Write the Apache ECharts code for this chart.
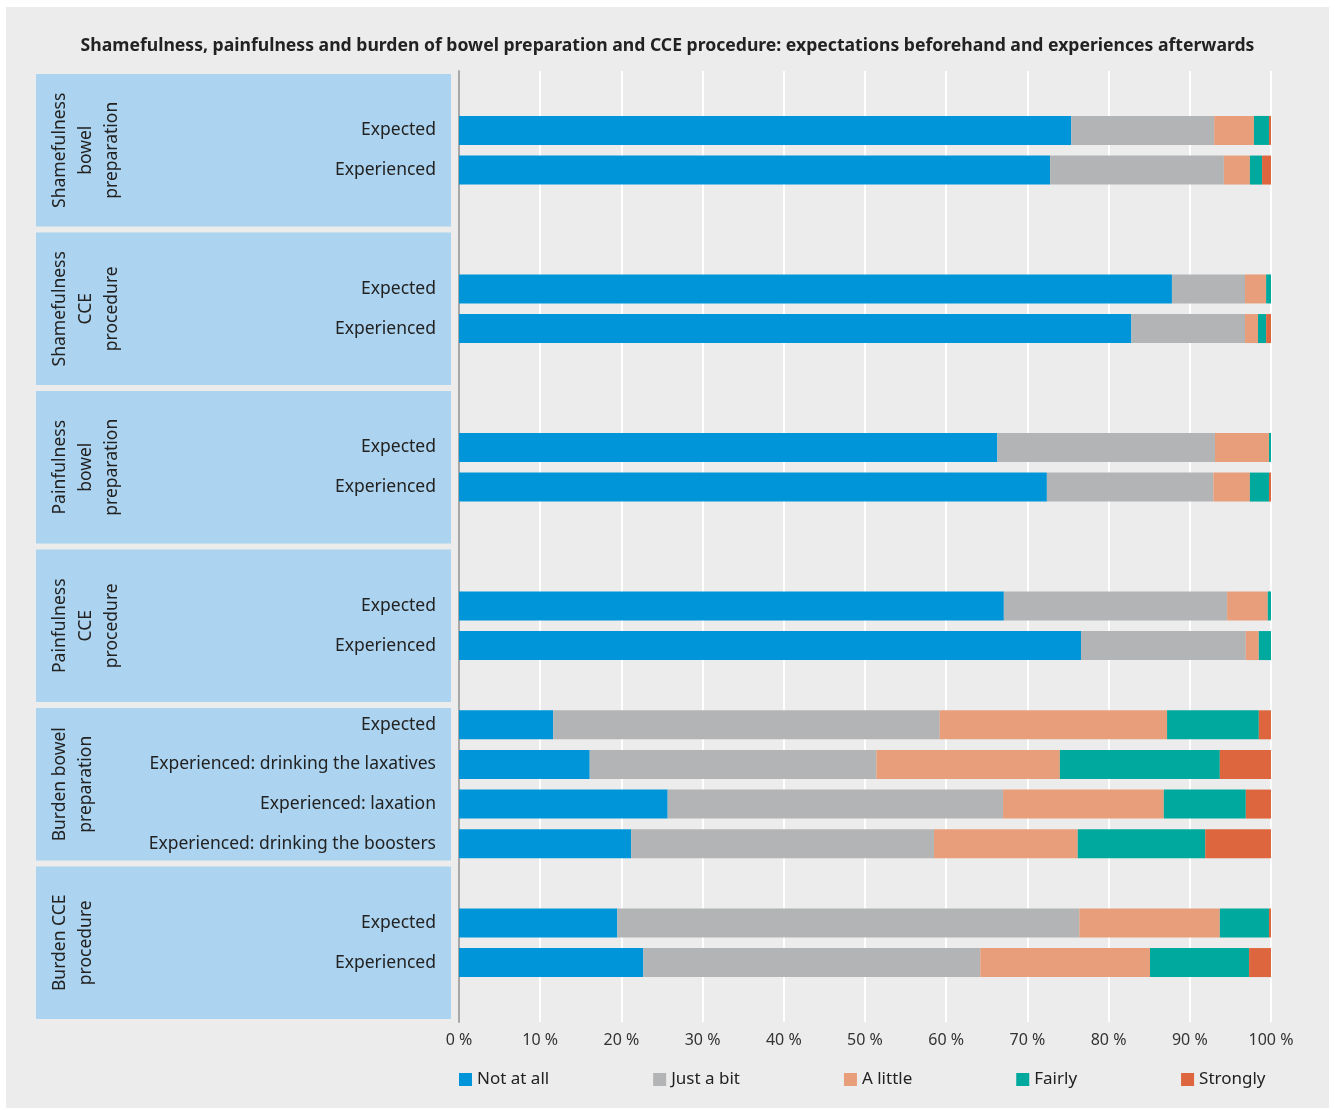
<!DOCTYPE html>
<html>
<head>
<meta charset="utf-8">
<title>Shamefulness, painfulness and burden</title>
<script src="https://cdn.jsdelivr.net/npm/echarts@6.0.0/dist/echarts.min.js"></script>
<style>
body{margin:0;background:#fff;}
#bg{position:absolute;left:6px;top:7px;width:1323px;height:1101px;background:#ebeceb;}
#main{position:absolute;left:0;top:0;width:1335px;height:1110px;}
</style>
</head>
<body>
<div id="bg"></div>
<div id="main"></div>
<script>
var chartTitle = 'Shamefulness, painfulness and burden of bowel preparation and CCE procedure: expectations beforehand and experiences afterwards';
//分组名称
var groupNames = [
	'Shamefulness\nbowel\npreparation',
	'Shamefulness\nCCE\nprocedure',
	'Painfulness\nbowel\npreparation',
	'Painfulness\nCCE\nprocedure',
	'Burden bowel\npreparation',
	'Burden CCE\nprocedure'
];
//每组的行
var groupRows = [
	['Expected', 'Experienced'],
	['Expected', 'Experienced'],
	['Expected', 'Experienced'],
	['Expected', 'Experienced'],
	['Expected', 'Experienced: drinking the laxatives', 'Experienced: laxation', 'Experienced: drinking the boosters'],
	['Expected', 'Experienced']
];
var levels = ['Not at all', 'Just a bit', 'A little', 'Fairly', 'Strongly'];
//百分比
var notAtAll = [75.4, 72.8, 87.8, 82.8, 66.3, 72.4, 67.1, 76.6, 11.6, 16.1, 25.7, 21.2, 19.5, 22.7];
var justABit = [17.6, 21.4, 9.0, 14.0, 26.8, 20.5, 27.5, 20.3, 47.6, 35.3, 41.3, 37.3, 56.9, 41.5];
var aLittle  = [4.9, 3.2, 2.6, 1.6, 6.65, 4.5, 5.0, 1.6, 28.0, 22.6, 19.8, 17.7, 17.3, 20.9];
var fairly   = [1.85, 1.5, 0.6, 1.0, 0.25, 2.35, 0.4, 1.5, 11.3, 19.7, 10.1, 15.7, 6.05, 12.2];
var strongly = [0.25, 1.1, 0, 0.6, 0, 0.25, 0, 0, 1.5, 6.3, 3.1, 8.1, 0.25, 2.7];
var levelValues = [notAtAll, justABit, aLittle, fairly, strongly];
var colors = ['#0095d9', '#b3b4b5', '#e89e7b', '#00a99d', '#dd663e'];

var fontFamily = 'Noto Sans';
var slotsPerGroup = 4;

//构造类目：每组4个位置，不足的上下留空
var categories = [];
var rowSlot = [];
var groupSlots = [];
for (var g = 0; g < groupRows.length; g++) {
	var rows = groupRows[g];
	var pad = (slotsPerGroup - rows.length) / 2;
	var first = categories.length;
	for (var k = 0; k < slotsPerGroup; k++) {
		var r = k - pad;
		if (r >= 0 && r < rows.length) {
			rowSlot.push(categories.length);
			categories.push(rows[r]);
		} else {
			categories.push('');
		}
	}
	groupSlots.push([first, categories.length - 1]);
}

function toSlots(values) {
	var out = [];
	for (var i = 0; i < categories.length; i++) out.push('-');
	for (var j = 0; j < rowSlot.length; j++) out[rowSlot[j]] = values[j];
	return out;
}

var series = [];
for (var s = 0; s < levels.length; s++) {
	series.push({
		name: levels[s],
		type: 'bar',
		stack: 'total',
		barWidth: 29,
		itemStyle: { color: colors[s] },
		emphasis: { disabled: true },
		data: toSlots(levelValues[s])
	});
}

var Chart = echarts.init(document.getElementById('main'));
var option = {
	backgroundColor: 'transparent',
	animation: false,
	title: {
		text: chartTitle,
		left: 'center',
		top: 32,
		textStyle: { fontFamily: fontFamily, fontSize: 17.6, fontWeight: 'bold', color: '#222' }
	},
	legend: {
		data: levels,
		left: 459,
		top: 1071,
		padding: 0,
		icon: 'rect',
		itemWidth: 13,
		itemHeight: 13,
		itemGap: 104,
		textStyle: { fontFamily: fontFamily, fontSize: 17, color: '#222' }
	},
	grid: { left: 459, right: 64, top: 71, bottom: 88, containLabel: false },
	xAxis: {
		type: 'value',
		min: 0,
		max: 100,
		interval: 10,
		axisLine: { show: false },
		axisTick: { show: false },
		splitLine: { show: true, lineStyle: { color: '#ffffff', width: 2 } },
		axisLabel: {
			formatter: '{value} %',
			margin: 10,
			fontFamily: fontFamily,
			fontSize: 16,
			color: '#333'
		}
	},
	yAxis: {
		type: 'category',
		inverse: true,
		data: categories,
		axisLine: { show: true, lineStyle: { color: '#a8a8a8', width: 2 } },
		axisTick: { show: false },
		splitLine: { show: false },
		axisLabel: {
			interval: 0,
			margin: 23,
			fontFamily: fontFamily,
			fontSize: 17.5,
			color: '#222'
		}
	},
	series: series
};
Chart.setOption(option);

//左侧蓝色分组底板和竖排组名
var band = Math.abs(Chart.convertToPixel({ yAxisIndex: 0 }, 1) - Chart.convertToPixel({ yAxisIndex: 0 }, 0));
var graphics = [];
for (var gi = 0; gi < groupSlots.length; gi++) {
	var y0 = Chart.convertToPixel({ yAxisIndex: 0 }, groupSlots[gi][0]) - band / 2;
	var y1 = Chart.convertToPixel({ yAxisIndex: 0 }, groupSlots[gi][1]) + band / 2;
	graphics.push({
		type: 'rect',
		z: -10,
		silent: true,
		shape: { x: 36, y: y0 + 3, width: 415, height: y1 - y0 - 6 },
		style: { fill: '#acd3ef' }
	});
	graphics.push({
		type: 'text',
		z: -9,
		silent: true,
		x: 47,
		y: (y0 + y1) / 2,
		rotation: Math.PI / 2,
		style: {
			text: groupNames[gi],
			font: '17.5px "' + fontFamily + '"',
			textAlign: 'center',
			textVerticalAlign: 'top',
			align: 'center',
			verticalAlign: 'top',
			lineHeight: 26,
			fill: '#222'
		}
	});
}
Chart.setOption({ graphic: graphics });
</script>
</body>
</html>
